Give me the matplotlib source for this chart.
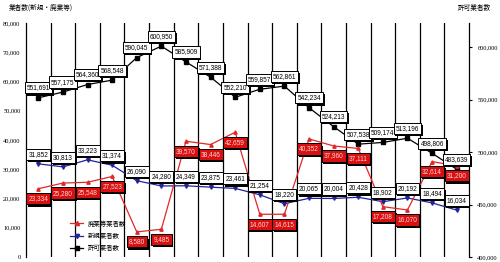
import matplotlib
matplotlib.use("Agg")
import matplotlib.pyplot as plt
from matplotlib.lines import Line2D
import matplotlib.patheffects as pe

# ---- data ----
n_periods = 18
permitted = [551691, 557175, 564360, 568548, 590045, 600950, 585909, 571388, 552210,
             559857, 562861, 542234, 524213, 507538, 509174, 513196, 498806, 483639]
new_ops = [31852, 30813, 33223, 31374, 26090, 24280, 24349, 23875, 23461,
           21254, 18220, 20065, 20004, 20428, 18902, 20192, 18494, 16034]
closed_ops = [23334, 25280, 25548, 27523, 8580, 9485, 39570, 38446, 42659,
              14607, 14615, 40352, 37960, 37111, 17208, 16070, 32614, 31200]
left_ticks = [0, 10000, 20000, 30000, 40000, 50000, 60000, 70000, 80000]
right_ticks = [400000, 450000, 500000, 550000, 600000]
legend_labels = ["廃業等業者数", "新規業者数", "許可業者数"]
left_title = "業者数(新規・廃業等)"
right_title = "許可業者数"

RED = "#E02828"
BLUE = "#22229A"
BOXRED = "#D81010"

plt.rcParams['font.family'] = ['Liberation Sans', 'Noto Sans CJK JP', 'DejaVu Sans']

fig = plt.figure(figsize=(5, 2.62), dpi=100)
W, H = 500, 262
ax = fig.add_axes([26 / W, 5 / H, 443 / W, 234 / H])
ax.set_xlim(0, n_periods)
ax.set_ylim(0, 80000)
ax2 = ax.twinx()
ax2.set_ylim(400000, 623000)

for a in (ax, ax2):
    for s in ("top", "bottom"):
        a.spines[s].set_visible(False)
ax.spines["left"].set_linewidth(0.9)
ax2.spines["right"].set_linewidth(0.9)
ax2.spines["left"].set_visible(False)
ax.spines["right"].set_visible(False)
ax.set_xticks([])

for i in range(1, n_periods):
    ax.axvline(i, color="black", lw=0.9, zorder=0)

ax.set_yticks(left_ticks)
ax.set_yticklabels([f"{v:,}" for v in left_ticks], family="Liberation Serif", fontsize=4.6)
ax.tick_params(axis="y", length=0, pad=4)
ax2.set_yticks(right_ticks)
ax2.set_yticklabels([f"{v:,}" for v in right_ticks], family="Liberation Serif", fontsize=4.6)
ax2.tick_params(axis="y", length=2, width=0.8, pad=4)

xs = [i + 0.5 for i in range(n_periods)]

ax2.plot(xs, permitted, color="black", lw=0.9, marker="s", ms=2.6, zorder=3)
ax2.plot(xs, new_ops, color=BLUE, lw=0.9, marker="v", ms=2.6, zorder=3,
         transform=ax.transData)
ax2.plot(xs, closed_ops, color=RED, lw=0.9, marker="^", ms=2.4, zorder=3,
         transform=ax.transData)

PX = 72 / 100.0  # points per pixel
shadow = [pe.SimplePatchShadow(offset=(1.2, -1.6), shadow_rgbFace="black", alpha=1.0),
          pe.Normal()]


def label(x, y, txt, coords, dy_px, fc, tc):
    t = ax2.annotate(txt, (x, y), xycoords=coords, textcoords="offset points",
                     xytext=(0, dy_px * PX), ha="center", va="center",
                     fontsize=4.7, color=tc, zorder=6,
                     bbox=dict(boxstyle="square,pad=0.32", fc=fc, ec="black", lw=0.7))
    t.get_bbox_patch().set_path_effects(shadow)


for x, v in zip(xs, permitted):
    label(x, v, f"{v:,}", ax2.transData, 10, "white", "black")
for x, v in zip(xs, new_ops):
    label(x, v, f"{v:,}", ax.transData, 9.5, "white", "black")
for x, v in zip(xs, closed_ops):
    label(x, v, f"{v:,}", ax.transData, -10, BOXRED, "#FFD8D8")

handles = [Line2D([], [], color=RED, lw=0.9, marker="^", ms=3),
           Line2D([], [], color=BLUE, lw=0.9, marker="v", ms=3),
           Line2D([], [], color="black", lw=0.9, marker="s", ms=3)]
fig.legend(handles, legend_labels, loc="upper left",
           bbox_to_anchor=(66 / W, 1 - 215 / H), frameon=False,
           prop={"family": ["Noto Sans CJK JP"], "size": 4.6},
           handlelength=1.9, handletextpad=0.8, labelspacing=0.7, borderpad=0.2)

fig.text(41 / W, 1 - 8 / H, left_title, ha="center", va="center",
         family=["Noto Sans CJK JP"], fontsize=4.8)
fig.text(474 / W, 1 - 8 / H, right_title, ha="center", va="center",
         family=["Noto Sans CJK JP"], fontsize=4.8)

fig.savefig("out.png", dpi=100)
